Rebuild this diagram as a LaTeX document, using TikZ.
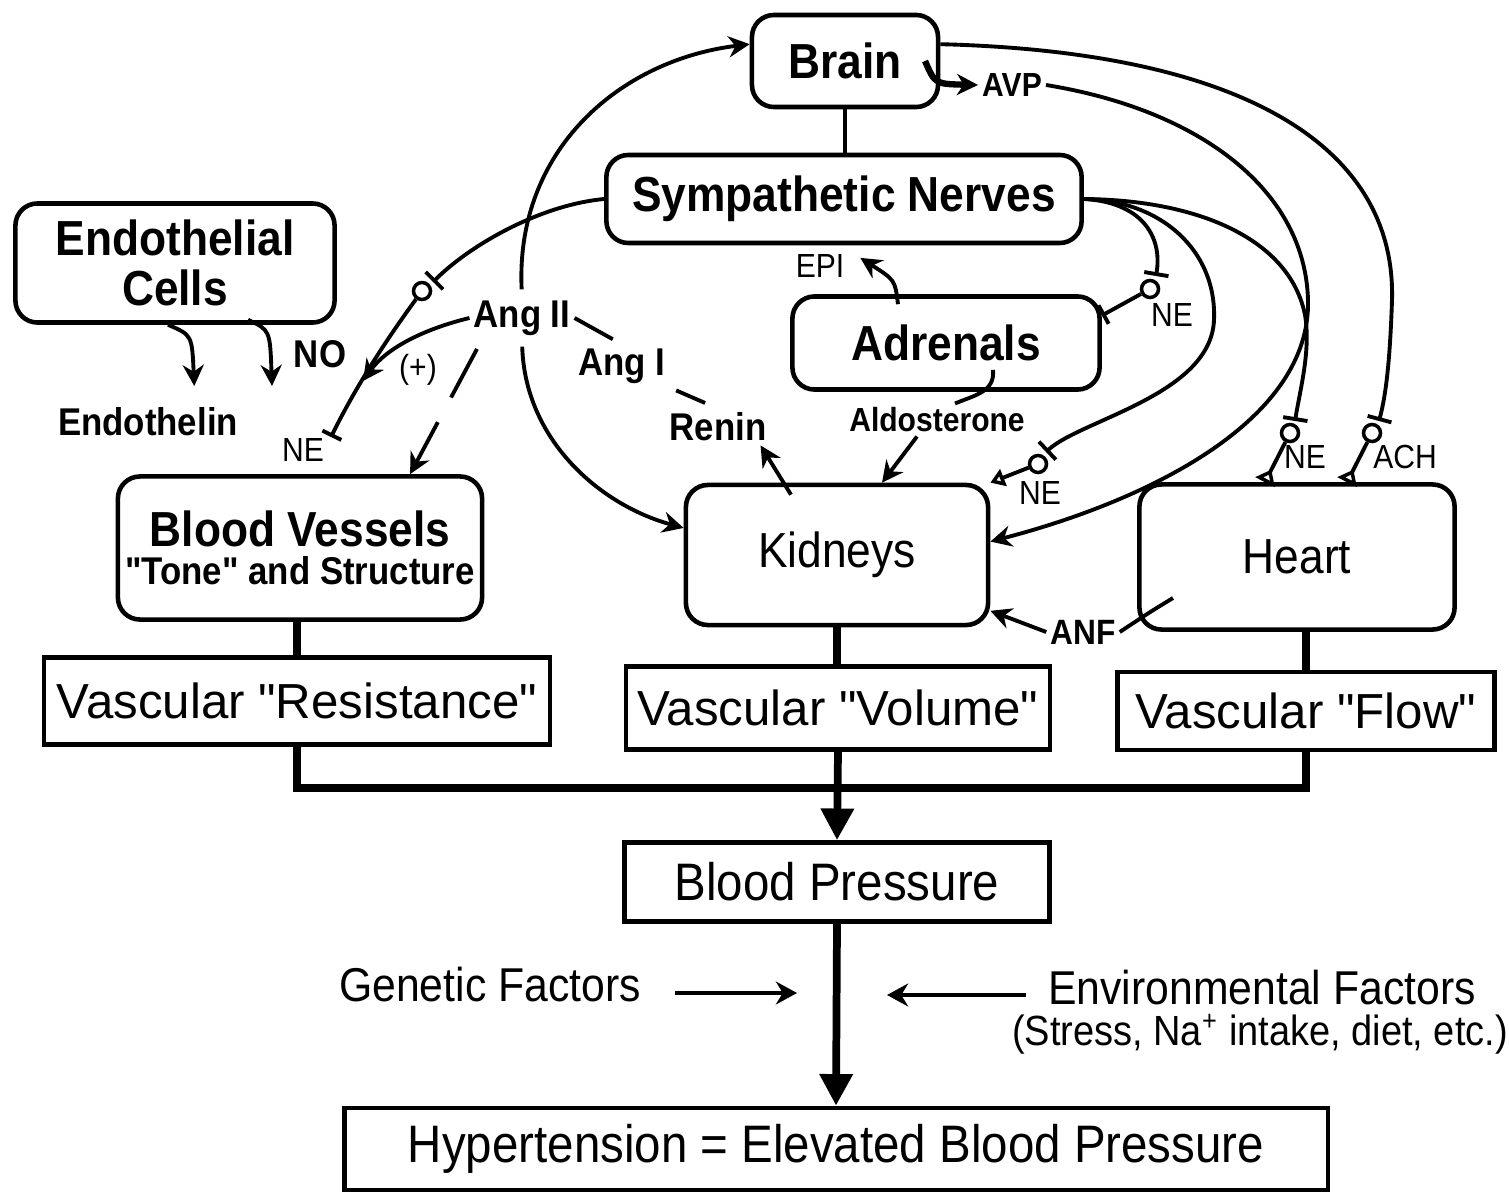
\documentclass[tikz,border=0pt]{standalone}
\usepackage{fontspec}
\setmainfont{Liberation Sans}
\newfontfamily\nar{Liberation Sans}[FakeStretch=0.9]
\newfontfamily\wide{Liberation Sans}
\usetikzlibrary{arrows.meta, positioning, calc}

\begin{document}
\begin{tikzpicture}[
    x=0.01cm, y=-0.01cm,
    organbox/.style={draw, rounded corners=0.22cm, line width=1.3pt, align=center, inner sep=2pt, font=\nar\bfseries\fontsize{14}{14}\selectfont},
    outbox/.style={draw, line width=1.3pt, inner sep=0pt, font=\wide\fontsize{14}{16}\selectfont},
    chem/.style={inner sep=1pt, font=\nar\bfseries\fontsize{11}{12}\selectfont},
    minor/.style={inner sep=1pt, font=\nar\fontsize{9.5}{10}\selectfont},
    ganglion/.style={circle, draw, line width=1pt, minimum size=0.17cm, inner sep=0pt},
    fiber/.style={line width=1.1pt},
    prefiber/.style={fiber, -{Bar[width=7pt]}},
    postfiber/.style={fiber, -{Triangle[open, length=4pt, width=5pt]}},
    link/.style={line width=1.1pt, -{Stealth[length=6pt, width=6pt]}},
    factor/.style={line width=1pt, -{Stealth[length=6pt, width=6.5pt]}},
    trunk/.style={line width=2.2pt},
    bigarrow/.style={line width=2.2pt, -{Triangle[length=9pt, width=9pt]}},
]
  \useasboundingbox (0,0) rectangle (1509,1194);

  % organs
  \node[organbox, minimum width=1.86cm, minimum height=0.92cm] (brain) at (845,61) {Brain};
  \node[organbox, minimum width=4.75cm, minimum height=0.88cm] (symp) at (844,199) {Sympathetic Nerves};
  \node[organbox, minimum width=3.19cm, minimum height=1.19cm] (endo) at (175,263) {Endothelial\\Cells};
  \node[organbox, minimum width=3.07cm, minimum height=0.93cm] (adren) at (946,343) {Adrenals};
  \node[organbox, font=\nar\bfseries\fontsize{14}{11}\selectfont, minimum width=3.64cm, minimum height=1.43cm] (vessels) at (300,548) {Blood Vessels\\{\fontsize{11}{11}\selectfont "Tone" and Structure}};
  \node[organbox, font=\nar\fontsize{14}{14}\selectfont, minimum width=3.02cm, minimum height=1.40cm] (kidneys) at (837,555) {Kidneys};
  \node[organbox, font=\nar\fontsize{14}{14}\selectfont, minimum width=3.15cm, minimum height=1.45cm] (heart) at (1297,557) {Heart};

  % outputs
  \node[outbox, minimum width=5.06cm, minimum height=0.87cm] (resist) at (297,701) {Vascular "Resistance"};
  \node[outbox, minimum width=4.24cm, minimum height=0.83cm] (volume) at (838,708) {Vascular "Volume"};
  \node[outbox, minimum width=3.77cm, minimum height=0.78cm] (flow) at (1306,711) {Vascular "Flow"};
  \node[outbox, font=\nar\fontsize{15}{16}\selectfont, minimum width=4.25cm, minimum height=0.79cm] (bp) at (837,882) {Blood Pressure};
  \node[outbox, font=\nar\fontsize{15}{16}\selectfont, minimum width=9.83cm, minimum height=0.82cm] (hyper) at (836,1149) {Hypertension = Elevated Blood Pressure};

  % mediators
  \node[chem] (endothelin) at (148,422) {Endothelin};
  \node[chem] (no) at (320,354) {NO};
  \node[chem] (angii) at (522,318) {Ang II};
  \node[chem] (angi) at (622,366) {Ang I};
  \node[chem] (renin) at (718,427) {Renin};
  \node[chem, font=\nar\bfseries\fontsize{9.5}{10}\selectfont] (aldo) at (937,420) {Aldosterone};
  \node[chem, font=\nar\bfseries\fontsize{9.5}{10}\selectfont] (avp) at (1012,85) {AVP};
  \node[chem, font=\nar\bfseries\fontsize{10}{10}\selectfont] (anf) at (1083,632) {ANF};
  \node[minor] (epi) at (820,266) {EPI};
  \node[minor] (plus) at (418,370) {(+)};
  \node[minor] (ne1) at (303,450) {NE};
  \node[minor] (ne2) at (1172,315) {NE};
  \node[minor] (ne3) at (1040,493) {NE};
  \node[minor] (ne4) at (1305,457) {NE};
  \node[minor] (ach) at (1405,457) {ACH};

  \node[font=\nar\fontsize{13.5}{14}\selectfont] (genetic) at (490,985) {Genetic Factors};
  \node[inner sep=0pt, font=\nar\fontsize{13.5}{14}\selectfont] (env) at (1262,988) {Environmental Factors};
  \node[inner sep=0pt, font=\nar\fontsize{12}{13}\selectfont] (envnote) at (1260,1034) {(Stress, Na\textsuperscript{+} intake, diet, etc.)};

  % ganglia
  \node[ganglion] (g1) at (422,291) {};
  \node[ganglion] (g2) at (1150,289) {};
  \node[ganglion] (g3) at (1038,464) {};
  \node[ganglion] (g4) at (1290,433) {};
  \node[ganglion] (g5) at (1372,433) {};

  \coordinate (join) at (837,788);
  \coordinate (vtip) at (331,437);
  \coordinate (notip) at (272,386);
  \coordinate (plustip) at (363,381);
  \coordinate (gtip) at (797,993);
  \coordinate (etip) at (887,995);

  % flow to blood pressure
  \draw[trunk] (resist.north |- vessels.south) -- (resist.north);
  \draw[trunk] (kidneys.south) -- (kidneys.south |- volume.north);
  \draw[trunk] (flow.north |- heart.south) -- (flow.north);
  \draw[trunk] (resist.south) |- (join) -| (flow.south);
  \draw[bigarrow] (volume.south) -- (bp.north);
  \draw[bigarrow] (bp.south) -- (hyper.north);
  \draw[factor] ([shift={(22,8)}]genetic.east) -- (gtip);
  \draw[factor] ([shift={(-22,7)}]env.west) -- (etip);

  % endothelium
  \draw[link, shorten >=5pt] ([xshift=-0.07cm]endo.south) .. controls (192,335) .. ([xshift=0.47cm]endothelin.north);
  \draw[link] ([xshift=0.73cm, yshift=0.05cm]endo.south) .. controls (270,330) .. (notip);

  % renin-angiotensin
  \draw[link, shorten <=2pt] (angii.north) .. controls (515,150) and (620,60) .. (brain.170);
  \draw[link, shorten <=2pt] (angii.south) .. controls (525,440) and (600,505) .. (kidneys.170);
  \draw[link] (angii.west) .. controls (420,330) and (385,350) .. (plustip);
  \draw[link, dash pattern=on 0.55cm off 0.28cm, shorten <=3pt] ([xshift=-0.4cm]angii.south) -- ([xshift=1.1cm]vessels.north);
  \draw[fiber, shorten >=3pt] (angii.east) -- (angi.north);
  \draw[fiber, shorten <=2pt, shorten >=4pt] (angi.south east) -- (renin.north);
  \draw[link] ([xshift=-0.46cm, yshift=-0.12cm]kidneys.north) -- ([xshift=-0.1cm]renin.south east);

  % adrenals
  \draw[link, shorten >=4pt] ([xshift=-0.48cm, yshift=-0.1cm]adren.north) .. controls (895,280) .. (epi.north east);
  \draw[fiber] ([xshift=0.47cm, yshift=0.22cm]adren.south) .. controls (995,392) and (975,395) .. ([xshift=0.18cm]aldo.north);
  \draw[link] ([xshift=-0.2cm]aldo.south) -- ([xshift=0.45cm]kidneys.north);

  % heart and brain hormones
  \draw[fiber] ([shift={(-124,41)}]heart.center) .. controls (1150,612) .. (anf.east);
  \draw[link] (anf.west) -- (kidneys.-20);
  \draw[line width=1.8pt, -{Stealth[length=6pt, width=6pt]}] ([xshift=0.8cm]brain.center) .. controls (935,84) .. (avp.west);
  \draw[link] (avp.east) .. controls (1200,110) and (1305,190) .. (1308,300) .. controls (1311,420) and (1150,500) .. (kidneys.5);

  % nerves
  \draw[fiber] (brain.south) -- (brain.south |- symp.north);
  \draw[prefiber] (brain.10) .. controls (1250,52) and (1396,150) .. (1392,300) .. controls (1390,360) and (1386,395) .. (1379,421);
  \draw[fiber, -{Triangle[open, reversed, length=4pt, width=6pt]}] (g5) -- ([xshift=0.5cm]heart.north);
  \draw[prefiber] (symp.east) .. controls (1200,200) and (1290,240) .. (1305,315) .. controls (1311,350) and (1300,390) .. (1295,421);
  \draw[fiber, -{Triangle[open, reversed, length=4pt, width=6pt]}] (g4) -- ([xshift=-0.32cm]heart.north);
  \draw[prefiber] (symp.east) .. controls (1160,200) and (1217,250) .. (1214,320) .. controls (1211,395) and (1080,420) .. (1046,452);
  \draw[postfiber] (g3) -- (kidneys.north east);
  \draw[prefiber] (symp.east) .. controls (1140,202) and (1163,235) .. (1156,276);
  \draw[fiber, -{Bar[width=6pt]}] (g2) -- (adren.10);
  \draw[prefiber] (symp.west) .. controls (540,205) and (470,245) .. (433,282);
  \draw[fiber, -{Bar[width=6pt]}] (g1) .. controls (395,328) and (360,378) .. (vtip);
\end{tikzpicture}
\end{document}
